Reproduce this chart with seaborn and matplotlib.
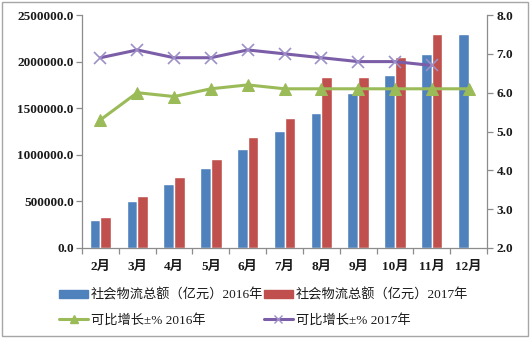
import numpy as np
import pandas as pd
import matplotlib
matplotlib.use("Agg")
import matplotlib.pyplot as plt
from matplotlib.lines import Line2D
from matplotlib.patches import Patch, Rectangle
import seaborn as sns

months = ["2月", "3月", "4月", "5月", "6月", "7月", "8月", "9月", "10月", "11月", "12月"]
total_2016 = [300000, 500000, 683000, 862000, 1066000, 1255000, 1452000, 1667000, 1860000, 2078000, 2293000]
total_2017 = [329000, 558000, 759000, 955000, 1191000, 1390000, 1838000, 1838000, 2053000, 2293000, np.nan]
growth_2016 = [5.3, 6.0, 5.9, 6.1, 6.2, 6.1, 6.1, 6.1, 6.1, 6.1, 6.1]
growth_2017 = [6.9, 7.1, 6.9, 6.9, 7.1, 7.0, 6.9, 6.8, 6.8, 6.7, np.nan]
label_bar_2016 = "社会物流总额（亿元）2016年"
label_bar_2017 = "社会物流总额（亿元）2017年"
label_line_2016 = "可比增长±% 2016年"
label_line_2017 = "可比增长±% 2017年"

sns.set_theme(style="white")
plt.rcParams['font.family'] = ['Liberation Serif', 'Noto Sans CJK SC', 'DejaVu Sans']

blue = "#4F81BD"
red = "#C0504D"
green = "#9BBB59"
purple = "#7B5EA7"
axis_gray = "#8C8C8C"

df = pd.DataFrame({
    "month": months * 2,
    "value": total_2016 + total_2017,
    "series": [label_bar_2016] * len(months) + [label_bar_2017] * len(months),
})

fig = plt.figure(figsize=(5.30, 3.38), dpi=100)
ax = fig.add_axes([82/530, 1 - 248/338, (487 - 82)/530, (248 - 15)/338])

sns.barplot(data=df, x="month", y="value", hue="series", order=months,
            palette=[blue, red], width=0.58, ax=ax, legend=False, saturation=1)
ax.set_xlim(-0.5, len(months) - 0.5)
ax.set_ylim(0, 2500000)
ax.set_yticks(np.arange(0, 2500001, 500000))
ax.set_yticklabels([f"{v:.1f}" for v in np.arange(0, 2500001, 500000)])
ax.set_xlabel("")
ax.set_ylabel("")

ax2 = ax.twinx()
xpos = np.arange(len(months))
sns.lineplot(x=xpos, y=growth_2016, ax=ax2, color=green, lw=2.2, marker="^",
             markersize=8, markeredgecolor=green, markerfacecolor=green)
sns.lineplot(x=xpos, y=growth_2017, ax=ax2, color=purple, lw=2.2, marker="x",
             markersize=9, markeredgecolor="#9D8FC8", markeredgewidth=1.2)
ax2.set_ylim(2.0, 8.0)
ax2.set_yticks(np.arange(2.0, 8.01, 1.0))
ax2.set_yticklabels([f"{v:.1f}" for v in np.arange(2.0, 8.01, 1.0)])
ax2.set_xlim(-0.5, len(months) - 0.5)

for a in (ax, ax2):
    a.spines["top"].set_visible(False)
    for s in ["left", "right", "bottom"]:
        a.spines[s].set_color(axis_gray)
        a.spines[s].set_linewidth(0.9)
    a.grid(False)

ax.spines["right"].set_visible(False)
ax2.spines["left"].set_visible(False)
ax2.spines["bottom"].set_visible(False)

ax.tick_params(axis="y", left=True, length=4, width=0.9, color=axis_gray, pad=2)
ax2.tick_params(axis="y", right=True, length=4, width=0.9, color=axis_gray, pad=3)
for lab in ax.get_yticklabels() + ax2.get_yticklabels():
    lab.set_fontsize(9.5)
    lab.set_fontweight("bold")
    lab.set_color("#1a1a1a")

ax.set_xticks(xpos)
ax.set_xticklabels(months)
ax.set_xticks(np.arange(-0.5, len(months), 1.0), minor=True)
ax.tick_params(axis="x", which="major", length=0, pad=9)
ax.tick_params(axis="x", which="minor", bottom=True, length=4, width=0.9, color=axis_gray)
for lab in ax.get_xticklabels():
    lab.set_fontsize(9.5)
    lab.set_fontweight("bold")
    lab.set_color("#1a1a1a")

handles = [
    Patch(facecolor=blue, edgecolor=blue, label=label_bar_2016),
    Line2D([0], [0], color=green, lw=2.2, marker="^", markersize=6, label=label_line_2016),
    Patch(facecolor=red, edgecolor=red, label=label_bar_2017),
    Line2D([0], [0], color=purple, lw=2.2, marker="x", markersize=6,
           markeredgecolor="#9D8FC8", label=label_line_2017),
]
leg = fig.legend(handles=handles, ncol=2, loc="upper left",
                 bbox_to_anchor=(54/530, 1 - 283/338), frameon=False,
                 prop=dict(size=9.5), handlelength=2.2, handleheight=0.6,
                 handletextpad=0.2, columnspacing=0.05, labelspacing=0.95, borderaxespad=0)
for t in leg.get_texts():
    t.set_color("#1a1a1a")

fig.add_artist(Rectangle((2/530, 2/338), 526/530, 334/338, transform=fig.transFigure,
                         fill=False, edgecolor="#A6A6A6", lw=1.0))

fig.savefig("out.png", dpi=100)
